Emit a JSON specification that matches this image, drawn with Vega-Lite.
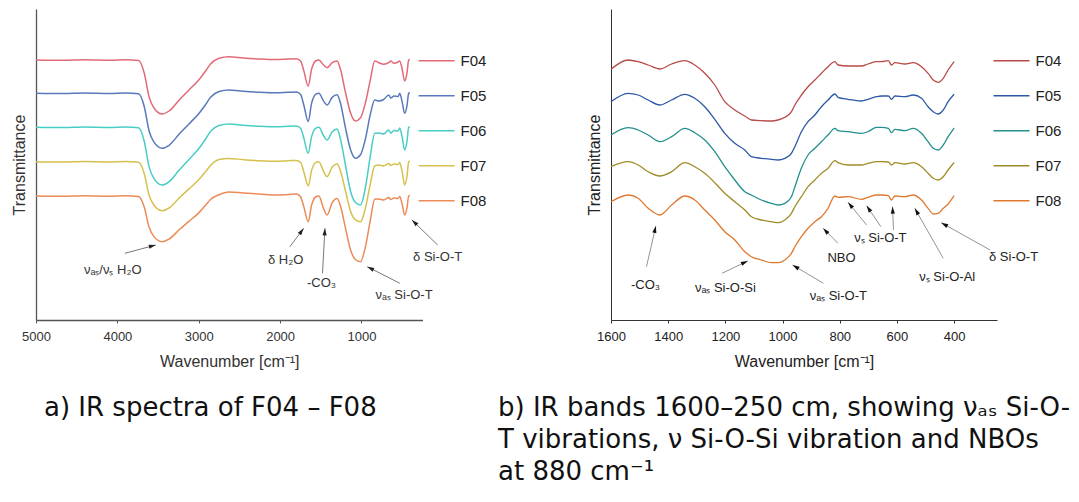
{
  "$schema": "https://vega.github.io/schema/vega-lite/v6.json",
  "padding": {"left": 11, "top": 9, "right": 5, "bottom": 10},
  "background": "white",
  "bounds": "flush",
  "spacing": 188,
  "config": {
    "view": {"stroke": null},
    "font": "Liberation Sans",
    "axis": {"grid": false, "labelFlush": false, "labelOverlap": false}
  },
  "datasets": {
    "specA": [
      {"sample":"F04","wn":5000,"t":260},{"sample":"F04","wn":4700,"t":259.7},{"sample":"F04","wn":4400,"t":260.3},{"sample":"F04","wn":4100,"t":259.8},{"sample":"F04","wn":3900,"t":260.2},{"sample":"F04","wn":3740,"t":259.5},{"sample":"F04","wn":3670,"t":247},{"sample":"F04","wn":3610,"t":223},{"sample":"F04","wn":3550,"t":212},{"sample":"F04","wn":3450,"t":206},{"sample":"F04","wn":3365,"t":209},{"sample":"F04","wn":3240,"t":220},{"sample":"F04","wn":3120,"t":230},{"sample":"F04","wn":3000,"t":240},{"sample":"F04","wn":2915,"t":249},{"sample":"F04","wn":2855,"t":256},{"sample":"F04","wn":2750,"t":261.8},{"sample":"F04","wn":2630,"t":263.3},{"sample":"F04","wn":2450,"t":262},{"sample":"F04","wn":2250,"t":261},{"sample":"F04","wn":2050,"t":260.5},{"sample":"F04","wn":1900,"t":261},{"sample":"F04","wn":1800,"t":261.3},{"sample":"F04","wn":1748,"t":259},{"sample":"F04","wn":1708,"t":249},{"sample":"F04","wn":1655,"t":234},{"sample":"F04","wn":1613,"t":250.7},{"sample":"F04","wn":1564,"t":259},{"sample":"F04","wn":1524,"t":260},{"sample":"F04","wn":1463,"t":254.7},{"sample":"F04","wn":1422,"t":252.3},{"sample":"F04","wn":1360,"t":257.3},{"sample":"F04","wn":1300,"t":259},{"sample":"F04","wn":1258,"t":250.7},{"sample":"F04","wn":1196,"t":227.3},{"sample":"F04","wn":1135,"t":207.3},{"sample":"F04","wn":1074,"t":199},{"sample":"F04","wn":1012,"t":202.3},{"sample":"F04","wn":951,"t":217.3},{"sample":"F04","wn":890,"t":240.7},{"sample":"F04","wn":837,"t":259},{"sample":"F04","wn":788,"t":257.3},{"sample":"F04","wn":727,"t":255.7},{"sample":"F04","wn":665,"t":257.3},{"sample":"F04","wn":640,"t":259},{"sample":"F04","wn":600,"t":256.7},{"sample":"F04","wn":550,"t":258},{"sample":"F04","wn":530,"t":259},{"sample":"F04","wn":500,"t":251},{"sample":"F04","wn":469,"t":239},{"sample":"F04","wn":440,"t":247.4},{"sample":"F04","wn":420,"t":260},{"sample":"F04","wn":405,"t":260.5},
      {"sample":"F05","wn":5000,"t":226.7},{"sample":"F05","wn":4700,"t":226.4},{"sample":"F05","wn":4400,"t":227},{"sample":"F05","wn":4100,"t":226.5},{"sample":"F05","wn":3900,"t":226.9},{"sample":"F05","wn":3740,"t":226.2},{"sample":"F05","wn":3670,"t":213.5},{"sample":"F05","wn":3610,"t":189},{"sample":"F05","wn":3550,"t":177.8},{"sample":"F05","wn":3450,"t":171.7},{"sample":"F05","wn":3365,"t":174.7},{"sample":"F05","wn":3240,"t":185.9},{"sample":"F05","wn":3120,"t":196.1},{"sample":"F05","wn":3000,"t":206.3},{"sample":"F05","wn":2915,"t":215.5},{"sample":"F05","wn":2855,"t":222.7},{"sample":"F05","wn":2750,"t":228.5},{"sample":"F05","wn":2630,"t":230},{"sample":"F05","wn":2450,"t":228.7},{"sample":"F05","wn":2250,"t":227.7},{"sample":"F05","wn":2050,"t":227.2},{"sample":"F05","wn":1900,"t":227.7},{"sample":"F05","wn":1800,"t":228},{"sample":"F05","wn":1748,"t":225.6},{"sample":"F05","wn":1708,"t":214.7},{"sample":"F05","wn":1655,"t":198.4},{"sample":"F05","wn":1613,"t":216.6},{"sample":"F05","wn":1564,"t":225.6},{"sample":"F05","wn":1524,"t":226.7},{"sample":"F05","wn":1463,"t":218.6},{"sample":"F05","wn":1422,"t":215},{"sample":"F05","wn":1360,"t":222.6},{"sample":"F05","wn":1300,"t":225.2},{"sample":"F05","wn":1258,"t":216.8},{"sample":"F05","wn":1196,"t":191.8},{"sample":"F05","wn":1135,"t":170.5},{"sample":"F05","wn":1074,"t":161.7},{"sample":"F05","wn":1012,"t":165.2},{"sample":"F05","wn":951,"t":181.2},{"sample":"F05","wn":890,"t":206.1},{"sample":"F05","wn":837,"t":220},{"sample":"F05","wn":788,"t":219},{"sample":"F05","wn":727,"t":220.5},{"sample":"F05","wn":665,"t":225},{"sample":"F05","wn":640,"t":222},{"sample":"F05","wn":600,"t":224},{"sample":"F05","wn":550,"t":223.5},{"sample":"F05","wn":530,"t":226.7},{"sample":"F05","wn":500,"t":218.1},{"sample":"F05","wn":469,"t":206.7},{"sample":"F05","wn":440,"t":214.7},{"sample":"F05","wn":420,"t":226.7},{"sample":"F05","wn":405,"t":227.2},
      {"sample":"F06","wn":5000,"t":192.7},{"sample":"F06","wn":4700,"t":192.4},{"sample":"F06","wn":4400,"t":193},{"sample":"F06","wn":4100,"t":192.5},{"sample":"F06","wn":3900,"t":192.9},{"sample":"F06","wn":3740,"t":192.2},{"sample":"F06","wn":3670,"t":178.8},{"sample":"F06","wn":3610,"t":153.1},{"sample":"F06","wn":3550,"t":141.4},{"sample":"F06","wn":3450,"t":135},{"sample":"F06","wn":3365,"t":138.2},{"sample":"F06","wn":3240,"t":149.9},{"sample":"F06","wn":3120,"t":160.6},{"sample":"F06","wn":3000,"t":171.3},{"sample":"F06","wn":2915,"t":181},{"sample":"F06","wn":2855,"t":188.6},{"sample":"F06","wn":2750,"t":194.5},{"sample":"F06","wn":2630,"t":196},{"sample":"F06","wn":2450,"t":194.7},{"sample":"F06","wn":2250,"t":193.7},{"sample":"F06","wn":2050,"t":193.2},{"sample":"F06","wn":1900,"t":193.7},{"sample":"F06","wn":1800,"t":194},{"sample":"F06","wn":1748,"t":191.7},{"sample":"F06","wn":1708,"t":181.7},{"sample":"F06","wn":1655,"t":166.7},{"sample":"F06","wn":1613,"t":183.4},{"sample":"F06","wn":1564,"t":191.7},{"sample":"F06","wn":1524,"t":192.7},{"sample":"F06","wn":1463,"t":184},{"sample":"F06","wn":1422,"t":180},{"sample":"F06","wn":1360,"t":188.2},{"sample":"F06","wn":1300,"t":191},{"sample":"F06","wn":1258,"t":180.9},{"sample":"F06","wn":1196,"t":154.5},{"sample":"F06","wn":1135,"t":129},{"sample":"F06","wn":1074,"t":117.5},{"sample":"F06","wn":1012,"t":115},{"sample":"F06","wn":951,"t":132.8},{"sample":"F06","wn":890,"t":164.7},{"sample":"F06","wn":837,"t":186.7},{"sample":"F06","wn":788,"t":187},{"sample":"F06","wn":727,"t":186},{"sample":"F06","wn":665,"t":190},{"sample":"F06","wn":640,"t":187},{"sample":"F06","wn":600,"t":189.5},{"sample":"F06","wn":550,"t":189},{"sample":"F06","wn":530,"t":192},{"sample":"F06","wn":500,"t":183},{"sample":"F06","wn":469,"t":170},{"sample":"F06","wn":440,"t":179.1},{"sample":"F06","wn":420,"t":192.7},{"sample":"F06","wn":405,"t":193.2},
      {"sample":"F07","wn":5000,"t":158.3},{"sample":"F07","wn":4700,"t":158},{"sample":"F07","wn":4400,"t":158.6},{"sample":"F07","wn":4100,"t":158.1},{"sample":"F07","wn":3900,"t":158.5},{"sample":"F07","wn":3740,"t":157.8},{"sample":"F07","wn":3670,"t":146.5},{"sample":"F07","wn":3610,"t":124.7},{"sample":"F07","wn":3550,"t":114.8},{"sample":"F07","wn":3450,"t":109.3},{"sample":"F07","wn":3365,"t":112},{"sample":"F07","wn":3240,"t":122},{"sample":"F07","wn":3120,"t":131.1},{"sample":"F07","wn":3000,"t":140.2},{"sample":"F07","wn":2915,"t":148.4},{"sample":"F07","wn":2855,"t":154.5},{"sample":"F07","wn":2750,"t":160.5},{"sample":"F07","wn":2630,"t":161.6},{"sample":"F07","wn":2450,"t":160.3},{"sample":"F07","wn":2250,"t":159.3},{"sample":"F07","wn":2050,"t":158.8},{"sample":"F07","wn":1900,"t":159.3},{"sample":"F07","wn":1800,"t":159.6},{"sample":"F07","wn":1748,"t":157.4},{"sample":"F07","wn":1708,"t":148},{"sample":"F07","wn":1655,"t":134},{"sample":"F07","wn":1613,"t":149.6},{"sample":"F07","wn":1564,"t":157.4},{"sample":"F07","wn":1524,"t":158.3},{"sample":"F07","wn":1463,"t":148},{"sample":"F07","wn":1422,"t":143.3},{"sample":"F07","wn":1360,"t":153},{"sample":"F07","wn":1300,"t":156.3},{"sample":"F07","wn":1258,"t":149.1},{"sample":"F07","wn":1196,"t":128.8},{"sample":"F07","wn":1135,"t":109.1},{"sample":"F07","wn":1074,"t":100.2},{"sample":"F07","wn":1012,"t":98.3},{"sample":"F07","wn":951,"t":112.1},{"sample":"F07","wn":890,"t":136.7},{"sample":"F07","wn":837,"t":154},{"sample":"F07","wn":788,"t":155},{"sample":"F07","wn":727,"t":154},{"sample":"F07","wn":665,"t":156.5},{"sample":"F07","wn":640,"t":154.5},{"sample":"F07","wn":600,"t":156},{"sample":"F07","wn":550,"t":155.5},{"sample":"F07","wn":530,"t":157.5},{"sample":"F07","wn":500,"t":148.3},{"sample":"F07","wn":469,"t":135},{"sample":"F07","wn":440,"t":144.3},{"sample":"F07","wn":420,"t":158.3},{"sample":"F07","wn":405,"t":158.8},
      {"sample":"F08","wn":5000,"t":124},{"sample":"F08","wn":4700,"t":123.7},{"sample":"F08","wn":4400,"t":124.3},{"sample":"F08","wn":4100,"t":123.8},{"sample":"F08","wn":3900,"t":124.2},{"sample":"F08","wn":3740,"t":123.5},{"sample":"F08","wn":3670,"t":113},{"sample":"F08","wn":3610,"t":92.7},{"sample":"F08","wn":3550,"t":83.4},{"sample":"F08","wn":3450,"t":78.3},{"sample":"F08","wn":3365,"t":80.9},{"sample":"F08","wn":3240,"t":90.2},{"sample":"F08","wn":3120,"t":98.6},{"sample":"F08","wn":3000,"t":107.1},{"sample":"F08","wn":2915,"t":114.8},{"sample":"F08","wn":2855,"t":120.5},{"sample":"F08","wn":2750,"t":125.3},{"sample":"F08","wn":2630,"t":128},{"sample":"F08","wn":2450,"t":127},{"sample":"F08","wn":2250,"t":126},{"sample":"F08","wn":2050,"t":125},{"sample":"F08","wn":1900,"t":125.5},{"sample":"F08","wn":1800,"t":126},{"sample":"F08","wn":1748,"t":123},{"sample":"F08","wn":1708,"t":113.1},{"sample":"F08","wn":1655,"t":98.3},{"sample":"F08","wn":1613,"t":114.8},{"sample":"F08","wn":1564,"t":123},{"sample":"F08","wn":1524,"t":124},{"sample":"F08","wn":1463,"t":110.9},{"sample":"F08","wn":1422,"t":105},{"sample":"F08","wn":1360,"t":117.3},{"sample":"F08","wn":1300,"t":121.5},{"sample":"F08","wn":1258,"t":114.1},{"sample":"F08","wn":1196,"t":91.7},{"sample":"F08","wn":1135,"t":70.2},{"sample":"F08","wn":1074,"t":60.5},{"sample":"F08","wn":1012,"t":58.3},{"sample":"F08","wn":951,"t":73.4},{"sample":"F08","wn":890,"t":100.3},{"sample":"F08","wn":837,"t":120.7},{"sample":"F08","wn":788,"t":121},{"sample":"F08","wn":727,"t":120},{"sample":"F08","wn":665,"t":122.5},{"sample":"F08","wn":640,"t":120.5},{"sample":"F08","wn":600,"t":122},{"sample":"F08","wn":550,"t":121.5},{"sample":"F08","wn":530,"t":123.5},{"sample":"F08","wn":500,"t":115.9},{"sample":"F08","wn":469,"t":105},{"sample":"F08","wn":440,"t":112.6},{"sample":"F08","wn":420,"t":124},{"sample":"F08","wn":405,"t":124.5}
    ],
    "specB": [
      {"sample":"F04","wn":1600,"t":250.7},{"sample":"F04","wn":1540,"t":260},{"sample":"F04","wn":1505,"t":258.3},{"sample":"F04","wn":1470,"t":255},{"sample":"F04","wn":1429,"t":251},{"sample":"F04","wn":1388,"t":256},{"sample":"F04","wn":1342,"t":259.3},{"sample":"F04","wn":1307,"t":255},{"sample":"F04","wn":1272,"t":246.7},{"sample":"F04","wn":1237,"t":235},{"sample":"F04","wn":1202,"t":218.3},{"sample":"F04","wn":1167,"t":210},{"sample":"F04","wn":1132,"t":204},{"sample":"F04","wn":1109,"t":200},{"sample":"F04","wn":1074,"t":199.3},{"sample":"F04","wn":1039,"t":199},{"sample":"F04","wn":1016,"t":200},{"sample":"F04","wn":992,"t":202.7},{"sample":"F04","wn":969,"t":208.3},{"sample":"F04","wn":957,"t":215},{"sample":"F04","wn":934,"t":225},{"sample":"F04","wn":911,"t":233.3},{"sample":"F04","wn":887,"t":240},{"sample":"F04","wn":864,"t":246.7},{"sample":"F04","wn":841,"t":253.3},{"sample":"F04","wn":817,"t":258.3},{"sample":"F04","wn":806,"t":255},{"sample":"F04","wn":771,"t":254},{"sample":"F04","wn":724,"t":254},{"sample":"F04","wn":701,"t":256},{"sample":"F04","wn":671,"t":258.3},{"sample":"F04","wn":654,"t":258.3},{"sample":"F04","wn":630,"t":259.3},{"sample":"F04","wn":619,"t":255},{"sample":"F04","wn":607,"t":257.3},{"sample":"F04","wn":572,"t":256},{"sample":"F04","wn":543,"t":257.3},{"sample":"F04","wn":514,"t":253.3},{"sample":"F04","wn":491,"t":246.7},{"sample":"F04","wn":473,"t":240},{"sample":"F04","wn":456,"t":237.7},{"sample":"F04","wn":438,"t":241.7},{"sample":"F04","wn":421,"t":250},{"sample":"F04","wn":400,"t":258.5},
      {"sample":"F05","wn":1600,"t":218.3},{"sample":"F05","wn":1540,"t":226.7},{"sample":"F05","wn":1505,"t":225},{"sample":"F05","wn":1470,"t":220},{"sample":"F05","wn":1429,"t":215},{"sample":"F05","wn":1388,"t":220},{"sample":"F05","wn":1342,"t":225.7},{"sample":"F05","wn":1307,"t":221.7},{"sample":"F05","wn":1272,"t":213.3},{"sample":"F05","wn":1237,"t":200.7},{"sample":"F05","wn":1202,"t":186.7},{"sample":"F05","wn":1167,"t":176.7},{"sample":"F05","wn":1132,"t":170},{"sample":"F05","wn":1109,"t":163.3},{"sample":"F05","wn":1074,"t":161.7},{"sample":"F05","wn":1039,"t":160.7},{"sample":"F05","wn":1016,"t":160},{"sample":"F05","wn":992,"t":161.7},{"sample":"F05","wn":969,"t":166.7},{"sample":"F05","wn":957,"t":173.3},{"sample":"F05","wn":934,"t":188.3},{"sample":"F05","wn":911,"t":198.3},{"sample":"F05","wn":887,"t":205},{"sample":"F05","wn":864,"t":213.3},{"sample":"F05","wn":841,"t":220},{"sample":"F05","wn":817,"t":226},{"sample":"F05","wn":806,"t":222.7},{"sample":"F05","wn":771,"t":220.7},{"sample":"F05","wn":724,"t":219},{"sample":"F05","wn":701,"t":220.7},{"sample":"F05","wn":671,"t":223.3},{"sample":"F05","wn":654,"t":224},{"sample":"F05","wn":630,"t":224},{"sample":"F05","wn":619,"t":220.7},{"sample":"F05","wn":607,"t":224},{"sample":"F05","wn":572,"t":223.3},{"sample":"F05","wn":543,"t":225},{"sample":"F05","wn":514,"t":221.7},{"sample":"F05","wn":491,"t":213.3},{"sample":"F05","wn":473,"t":208.3},{"sample":"F05","wn":456,"t":206},{"sample":"F05","wn":438,"t":210},{"sample":"F05","wn":421,"t":218.3},{"sample":"F05","wn":400,"t":225.7},
      {"sample":"F06","wn":1600,"t":185},{"sample":"F06","wn":1540,"t":192.3},{"sample":"F06","wn":1505,"t":190},{"sample":"F06","wn":1470,"t":185},{"sample":"F06","wn":1429,"t":178.3},{"sample":"F06","wn":1388,"t":183.3},{"sample":"F06","wn":1342,"t":191.7},{"sample":"F06","wn":1307,"t":187.3},{"sample":"F06","wn":1272,"t":180},{"sample":"F06","wn":1237,"t":168.3},{"sample":"F06","wn":1202,"t":153.3},{"sample":"F06","wn":1167,"t":140},{"sample":"F06","wn":1132,"t":128.3},{"sample":"F06","wn":1109,"t":125},{"sample":"F06","wn":1074,"t":120},{"sample":"F06","wn":1039,"t":116.7},{"sample":"F06","wn":1016,"t":115},{"sample":"F06","wn":992,"t":116.7},{"sample":"F06","wn":969,"t":123.3},{"sample":"F06","wn":957,"t":133},{"sample":"F06","wn":934,"t":152},{"sample":"F06","wn":911,"t":165},{"sample":"F06","wn":887,"t":171.7},{"sample":"F06","wn":864,"t":178.3},{"sample":"F06","wn":841,"t":185},{"sample":"F06","wn":817,"t":191.7},{"sample":"F06","wn":806,"t":189.3},{"sample":"F06","wn":771,"t":188.3},{"sample":"F06","wn":724,"t":186.7},{"sample":"F06","wn":701,"t":188.3},{"sample":"F06","wn":671,"t":192.7},{"sample":"F06","wn":654,"t":192.7},{"sample":"F06","wn":630,"t":191.7},{"sample":"F06","wn":619,"t":187.3},{"sample":"F06","wn":607,"t":190.7},{"sample":"F06","wn":572,"t":189.3},{"sample":"F06","wn":543,"t":191.7},{"sample":"F06","wn":514,"t":186.7},{"sample":"F06","wn":491,"t":178.3},{"sample":"F06","wn":473,"t":171.7},{"sample":"F06","wn":456,"t":170},{"sample":"F06","wn":438,"t":175},{"sample":"F06","wn":421,"t":183.3},{"sample":"F06","wn":400,"t":192},
      {"sample":"F07","wn":1600,"t":153.3},{"sample":"F07","wn":1540,"t":158.3},{"sample":"F07","wn":1505,"t":155},{"sample":"F07","wn":1470,"t":148.3},{"sample":"F07","wn":1429,"t":144},{"sample":"F07","wn":1388,"t":148.3},{"sample":"F07","wn":1342,"t":157.3},{"sample":"F07","wn":1307,"t":153.3},{"sample":"F07","wn":1272,"t":146.7},{"sample":"F07","wn":1237,"t":137.3},{"sample":"F07","wn":1202,"t":126.7},{"sample":"F07","wn":1167,"t":118.3},{"sample":"F07","wn":1132,"t":110},{"sample":"F07","wn":1109,"t":103.3},{"sample":"F07","wn":1074,"t":100},{"sample":"F07","wn":1039,"t":98.3},{"sample":"F07","wn":1016,"t":97.3},{"sample":"F07","wn":992,"t":100},{"sample":"F07","wn":969,"t":106.7},{"sample":"F07","wn":957,"t":113.3},{"sample":"F07","wn":934,"t":123.3},{"sample":"F07","wn":911,"t":133.3},{"sample":"F07","wn":887,"t":140},{"sample":"F07","wn":864,"t":146.7},{"sample":"F07","wn":841,"t":151.7},{"sample":"F07","wn":817,"t":159.3},{"sample":"F07","wn":806,"t":157.3},{"sample":"F07","wn":771,"t":155},{"sample":"F07","wn":724,"t":155},{"sample":"F07","wn":701,"t":156.7},{"sample":"F07","wn":671,"t":158.3},{"sample":"F07","wn":654,"t":158.3},{"sample":"F07","wn":630,"t":158},{"sample":"F07","wn":619,"t":155},{"sample":"F07","wn":607,"t":157.3},{"sample":"F07","wn":572,"t":156},{"sample":"F07","wn":543,"t":157.3},{"sample":"F07","wn":514,"t":153.3},{"sample":"F07","wn":491,"t":146.7},{"sample":"F07","wn":473,"t":141.7},{"sample":"F07","wn":456,"t":140},{"sample":"F07","wn":438,"t":143.3},{"sample":"F07","wn":421,"t":150},{"sample":"F07","wn":400,"t":157.5},
      {"sample":"F08","wn":1600,"t":118.3},{"sample":"F08","wn":1540,"t":125},{"sample":"F08","wn":1505,"t":121.7},{"sample":"F08","wn":1470,"t":111.7},{"sample":"F08","wn":1429,"t":105},{"sample":"F08","wn":1388,"t":115},{"sample":"F08","wn":1342,"t":124},{"sample":"F08","wn":1307,"t":120},{"sample":"F08","wn":1272,"t":110},{"sample":"F08","wn":1237,"t":100},{"sample":"F08","wn":1202,"t":88.3},{"sample":"F08","wn":1167,"t":80},{"sample":"F08","wn":1132,"t":68.3},{"sample":"F08","wn":1109,"t":63.3},{"sample":"F08","wn":1074,"t":60},{"sample":"F08","wn":1039,"t":57.3},{"sample":"F08","wn":1016,"t":57.3},{"sample":"F08","wn":992,"t":60},{"sample":"F08","wn":969,"t":66.7},{"sample":"F08","wn":957,"t":73.3},{"sample":"F08","wn":934,"t":83.3},{"sample":"F08","wn":911,"t":91.7},{"sample":"F08","wn":887,"t":98.3},{"sample":"F08","wn":864,"t":103.3},{"sample":"F08","wn":841,"t":111.7},{"sample":"F08","wn":817,"t":124},{"sample":"F08","wn":806,"t":122.7},{"sample":"F08","wn":771,"t":123.3},{"sample":"F08","wn":724,"t":120.7},{"sample":"F08","wn":701,"t":122.7},{"sample":"F08","wn":671,"t":125},{"sample":"F08","wn":654,"t":125},{"sample":"F08","wn":630,"t":124.3},{"sample":"F08","wn":619,"t":120},{"sample":"F08","wn":607,"t":124},{"sample":"F08","wn":572,"t":123.3},{"sample":"F08","wn":543,"t":125},{"sample":"F08","wn":514,"t":120},{"sample":"F08","wn":491,"t":111.7},{"sample":"F08","wn":473,"t":106},{"sample":"F08","wn":456,"t":106.7},{"sample":"F08","wn":438,"t":111.7},{"sample":"F08","wn":421,"t":116},{"sample":"F08","wn":400,"t":124.3}
    ],
    "arrA": [
      {"id":"a1","x":3908,"y":66.7,"x2":3528,"y2":75},
      {"id":"a2","x":1880,"y":73.3,"x2":1710,"y2":91.7},
      {"id":"a3","x":1479,"y":46.7,"x2":1449,"y2":91.7},
      {"id":"a4","x":528,"y":36.7,"x2":929,"y2":53.3},
      {"id":"a5","x":64,"y":75,"x2":380,"y2":100}
    ],
    "labA": [
      {"label":"νₐₛ/νₛ H₂O","x":4056,"y":50},
      {"label":"δ H₂O","x":1931,"y":60},
      {"label":"-CO₃","x":1491,"y":37.3},
      {"label":"νₐₛ Si-O-T","x":477,"y":25},
      {"label":"δ Si-O-T","x":64,"y":62.7}
    ],
    "arrB": [
      {"id":"b1","x":1476,"y":53.3,"x2":1443,"y2":94},
      {"id":"b2","x":1212,"y":46.7,"x2":1121.5,"y2":59},
      {"id":"b3","x":857,"y":36.7,"x2":965,"y2":55},
      {"id":"b4","x":806,"y":76.7,"x2":858,"y2":91.7},
      {"id":"b5","x":706,"y":95,"x2":771,"y2":117.7},
      {"id":"b6","x":656,"y":93.3,"x2":706,"y2":114.3},
      {"id":"b7","x":612,"y":90,"x2":615.5,"y2":113.3},
      {"id":"b8","x":438,"y":61.7,"x2":537.5,"y2":111.7},
      {"id":"b9","x":274,"y":70,"x2":445,"y2":97.3}
    ],
    "labB": [
      {"label":"-CO₃","x":1479,"y":35},
      {"label":"νₐₛ Si-O-Si","x":1200,"y":31.7},
      {"label":"νₐₛ Si-O-T","x":805,"y":24.3},
      {"label":"NBO","x":794,"y":62},
      {"label":"νₛ Si-O-T","x":658,"y":82},
      {"label":"νₛ Si-O-Al","x":424,"y":43.3},
      {"label":"δ Si-O-T","x":192,"y":62.7}
    ]
  },
  "resolve": {"scale": {"color": "independent"}, "legend": {"color": "independent"}},
  "hconcat": [
    {
      "width": 386.5,
      "height": 311,
      "title": {"text": "a) IR spectra of F04 – F08", "orient": "bottom", "anchor": "start", "frame": "group", "dx": 8, "offset": 26, "font": "DejaVu Sans", "fontSize": 26, "fontWeight": "normal", "color": "#111", "baseline": "top"},
      "layer": [
        {
          "data": {"name": "specA"},
          "mark": {"type": "line", "strokeWidth": 1.5, "interpolate": "monotone"},
          "encoding": {
            "x": {"field": "wn", "type": "quantitative", "scale": {"domain": [250, 5000], "reverse": true, "nice": false, "zero": false},
              "axis": {"title": "Wavenumber [cm⁻¹]", "values": [5000, 4000, 3000, 2000, 1000], "format": "d", "labelFontSize": 13, "labelColor": "#333", "tickSize": 3, "labelPadding": 7, "tickColor": "#555", "domainColor": "#555", "domainWidth": 1.3, "titleFontSize": 16, "titleFontWeight": "normal", "titleColor": "#333", "titlePadding": 10}},
            "y": {"field": "t", "type": "quantitative", "scale": {"domain": [0, 311], "nice": false, "zero": false},
              "axis": {"title": "Transmittance", "labels": false, "ticks": false, "domainColor": "#555", "domainWidth": 1.3, "titleFontSize": 16, "titleFontWeight": "normal", "titleColor": "#333", "titlePadding": 9}},
            "color": {"field": "sample", "type": "nominal",
              "scale": {"domain": ["F04", "F05", "F06", "F07", "F08"], "range": ["#e26a76", "#5a78bc", "#48cdc5", "#d6c04e", "#eb8b58"]},
              "legend": {"orient": "none", "legendX": 381.6, "legendY": 32.7, "title": null, "symbolType": "stroke", "symbolSize": 1296, "symbolStrokeWidth": 1.5, "labelFontSize": 15, "labelColor": "#222", "rowPadding": 8, "labelOffset": 5, "padding": 0}}
          }
        },
        {
          "data": {"name": "arrA"},
          "mark": {"type": "rule", "color": "#555", "strokeWidth": 0.8},
          "encoding": {"x": {"field": "x", "type": "quantitative"}, "y": {"field": "y", "type": "quantitative"}, "x2": {"field": "x2"}, "y2": {"field": "y2"}}
        },
        {"data": {"name": "arrA"}, "transform": [{"filter": "datum.id == 'a1'"}], "mark": {"type": "point", "shape": "M0,0L-0.6,2L0.6,2Z", "filled": true, "opacity": 1, "color": "#222", "size": 49, "angle": 75}, "encoding": {"x": {"field": "x2", "type": "quantitative"}, "y": {"field": "y2", "type": "quantitative"}}},
        {"data": {"name": "arrA"}, "transform": [{"filter": "datum.id == 'a2'"}], "mark": {"type": "point", "shape": "M0,0L-0.6,2L0.6,2Z", "filled": true, "opacity": 1, "color": "#222", "size": 49, "angle": 37}, "encoding": {"x": {"field": "x2", "type": "quantitative"}, "y": {"field": "y2", "type": "quantitative"}}},
        {"data": {"name": "arrA"}, "transform": [{"filter": "datum.id == 'a3'"}], "mark": {"type": "point", "shape": "M0,0L-0.6,2L0.6,2Z", "filled": true, "opacity": 1, "color": "#222", "size": 49, "angle": 3}, "encoding": {"x": {"field": "x2", "type": "quantitative"}, "y": {"field": "y2", "type": "quantitative"}}},
        {"data": {"name": "arrA"}, "transform": [{"filter": "datum.id == 'a4'"}], "mark": {"type": "point", "shape": "M0,0L-0.6,2L0.6,2Z", "filled": true, "opacity": 1, "color": "#222", "size": 49, "angle": -63}, "encoding": {"x": {"field": "x2", "type": "quantitative"}, "y": {"field": "y2", "type": "quantitative"}}},
        {"data": {"name": "arrA"}, "transform": [{"filter": "datum.id == 'a5'"}], "mark": {"type": "point", "shape": "M0,0L-0.6,2L0.6,2Z", "filled": true, "opacity": 1, "color": "#222", "size": 49, "angle": -46}, "encoding": {"x": {"field": "x2", "type": "quantitative"}, "y": {"field": "y2", "type": "quantitative"}}},
        {
          "data": {"name": "labA"},
          "mark": {"type": "text", "fontSize": 13, "color": "#333", "align": "center", "baseline": "middle"},
          "encoding": {"x": {"field": "x", "type": "quantitative"}, "y": {"field": "y", "type": "quantitative"}, "text": {"field": "label"}}
        }
      ]
    },
    {
      "width": 386,
      "height": 311,
      "title": {"text": ["b) IR bands 1600–250 cm, showing νₐₛ Si-O-", "T vibrations, ν Si-O-Si vibration and NBOs", "at 880 cm⁻¹"], "orient": "bottom", "anchor": "start", "frame": "group", "dx": -113, "offset": 26, "font": "DejaVu Sans", "fontSize": 26, "fontWeight": "normal", "color": "#111", "baseline": "top", "lineHeight": 32},
      "layer": [
        {
          "data": {"name": "specB"},
          "mark": {"type": "line", "strokeWidth": 1.3, "interpolate": "monotone"},
          "encoding": {
            "x": {"field": "wn", "type": "quantitative", "scale": {"domain": [250, 1600], "reverse": true, "nice": false, "zero": false},
              "axis": {"title": "Wavenumber [cm⁻¹]", "values": [1600, 1400, 1200, 1000, 800, 600, 400], "format": "d", "labelFontSize": 13, "labelColor": "#222", "tickSize": 3, "labelPadding": 7, "tickColor": "#333", "domainColor": "#333", "domainWidth": 1, "titleFontSize": 16, "titleFontWeight": "normal", "titleColor": "#222", "titlePadding": 10}},
            "y": {"field": "t", "type": "quantitative", "scale": {"domain": [0, 311], "nice": false, "zero": false},
              "axis": {"title": "Transmittance", "labels": false, "ticks": false, "domainColor": "#333", "domainWidth": 1, "titleFontSize": 16, "titleFontWeight": "normal", "titleColor": "#222", "titlePadding": 9}},
            "color": {"field": "sample", "type": "nominal",
              "scale": {"domain": ["F04", "F05", "F06", "F07", "F08"], "range": ["#b84a48", "#2c58a6", "#22908d", "#a08c26", "#e0782f"]},
              "legend": {"orient": "none", "legendX": 381.5, "legendY": 32.7, "title": null, "symbolType": "stroke", "symbolSize": 1296, "symbolStrokeWidth": 1.5, "labelFontSize": 15, "labelColor": "#222", "rowPadding": 8, "labelOffset": 5, "padding": 0}}
          }
        },
        {
          "data": {"name": "arrB"},
          "mark": {"type": "rule", "color": "#666", "strokeWidth": 0.7},
          "encoding": {"x": {"field": "x", "type": "quantitative"}, "y": {"field": "y", "type": "quantitative"}, "x2": {"field": "x2"}, "y2": {"field": "y2"}}
        },
        {"data": {"name": "arrB"}, "transform": [{"filter": "datum.id == 'b1'"}], "mark": {"type": "point", "shape": "M0,0L-0.6,2L0.6,2Z", "filled": true, "opacity": 1, "color": "#111", "size": 49, "angle": 13}, "encoding": {"x": {"field": "x2", "type": "quantitative"}, "y": {"field": "y2", "type": "quantitative"}}},
        {"data": {"name": "arrB"}, "transform": [{"filter": "datum.id == 'b2'"}], "mark": {"type": "point", "shape": "M0,0L-0.6,2L0.6,2Z", "filled": true, "opacity": 1, "color": "#111", "size": 49, "angle": 65}, "encoding": {"x": {"field": "x2", "type": "quantitative"}, "y": {"field": "y2", "type": "quantitative"}}},
        {"data": {"name": "arrB"}, "transform": [{"filter": "datum.id == 'b3'"}], "mark": {"type": "point", "shape": "M0,0L-0.6,2L0.6,2Z", "filled": true, "opacity": 1, "color": "#111", "size": 49, "angle": -59}, "encoding": {"x": {"field": "x2", "type": "quantitative"}, "y": {"field": "y2", "type": "quantitative"}}},
        {"data": {"name": "arrB"}, "transform": [{"filter": "datum.id == 'b4'"}], "mark": {"type": "point", "shape": "M0,0L-0.6,2L0.6,2Z", "filled": true, "opacity": 1, "color": "#111", "size": 49, "angle": -43}, "encoding": {"x": {"field": "x2", "type": "quantitative"}, "y": {"field": "y2", "type": "quantitative"}}},
        {"data": {"name": "arrB"}, "transform": [{"filter": "datum.id == 'b5'"}], "mark": {"type": "point", "shape": "M0,0L-0.6,2L0.6,2Z", "filled": true, "opacity": 1, "color": "#111", "size": 49, "angle": -39}, "encoding": {"x": {"field": "x2", "type": "quantitative"}, "y": {"field": "y2", "type": "quantitative"}}},
        {"data": {"name": "arrB"}, "transform": [{"filter": "datum.id == 'b6'"}], "mark": {"type": "point", "shape": "M0,0L-0.6,2L0.6,2Z", "filled": true, "opacity": 1, "color": "#111", "size": 49, "angle": -34}, "encoding": {"x": {"field": "x2", "type": "quantitative"}, "y": {"field": "y2", "type": "quantitative"}}},
        {"data": {"name": "arrB"}, "transform": [{"filter": "datum.id == 'b7'"}], "mark": {"type": "point", "shape": "M0,0L-0.6,2L0.6,2Z", "filled": true, "opacity": 1, "color": "#111", "size": 49, "angle": -3}, "encoding": {"x": {"field": "x2", "type": "quantitative"}, "y": {"field": "y2", "type": "quantitative"}}},
        {"data": {"name": "arrB"}, "transform": [{"filter": "datum.id == 'b8'"}], "mark": {"type": "point", "shape": "M0,0L-0.6,2L0.6,2Z", "filled": true, "opacity": 1, "color": "#111", "size": 49, "angle": -30}, "encoding": {"x": {"field": "x2", "type": "quantitative"}, "y": {"field": "y2", "type": "quantitative"}}},
        {"data": {"name": "arrB"}, "transform": [{"filter": "datum.id == 'b9'"}], "mark": {"type": "point", "shape": "M0,0L-0.6,2L0.6,2Z", "filled": true, "opacity": 1, "color": "#111", "size": 49, "angle": -61}, "encoding": {"x": {"field": "x2", "type": "quantitative"}, "y": {"field": "y2", "type": "quantitative"}}},
        {
          "data": {"name": "labB"},
          "mark": {"type": "text", "fontSize": 13, "color": "#222", "align": "center", "baseline": "middle"},
          "encoding": {"x": {"field": "x", "type": "quantitative"}, "y": {"field": "y", "type": "quantitative"}, "text": {"field": "label"}}
        }
      ]
    }
  ]
}
